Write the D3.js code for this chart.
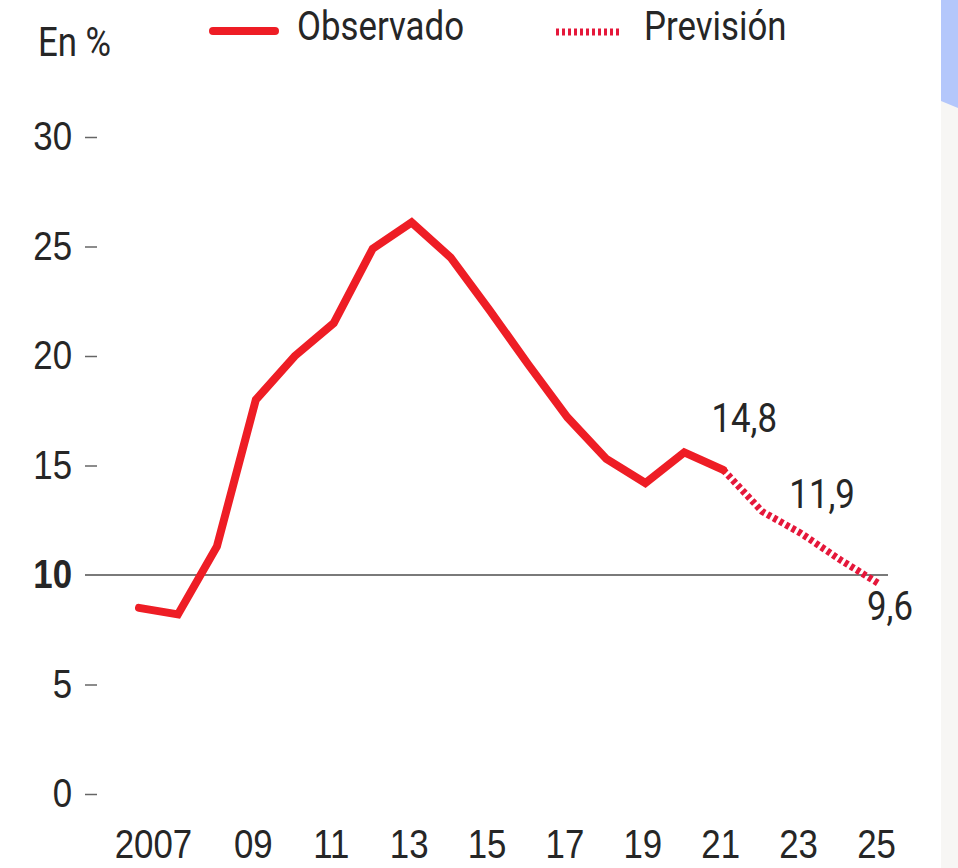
<!DOCTYPE html>
<html>
<head>
<meta charset="utf-8">
<script src="https://cdn.jsdelivr.net/npm/d3@7"></script>
<style>
  html, body { margin: 0; padding: 0; background: #fff; }
  svg { display: block; font-family: Roboto, "Noto Sans", sans-serif; }
</style>
</head>
<body>
<div id="chart"></div>
<script>
// Observed series (% unemployment)
const obsYears = [2006, 2007, 2008, 2009, 2010, 2011, 2012, 2013, 2014, 2015, 2016, 2017, 2018, 2019, 2020, 2021];
const obsValues = [8.5, 8.2, 11.3, 18.0, 20.0, 21.5, 24.9, 26.1, 24.5, 22.1, 19.6, 17.2, 15.3, 14.2, 15.6, 14.8];

// Forecast series (starts at last observed point)
const fcYears = [2021, 2022, 2023, 2024, 2025];
const fcValues = [14.8, 12.9, 11.9, 10.7, 9.6];

// Labelled points
const noteYears = [2021, 2023, 2025];
const noteTexts = ["14,8", "11,9", "9,6"];

const yTicks = [0, 5, 10, 15, 20, 25, 30];
const xTicks = [2007, 2009, 2011, 2013, 2015, 2017, 2019, 2021, 2023, 2025];
const xTickLabels = ["2007", "09", "11", "13", "15", "17", "19", "21", "23", "25"];

const RED = "#ee1d25";
const TXT = "#262626";
const SX = 0.87; // narrow the glyphs (condensed look)

const width = 958, height = 868;

const svg = d3.select("#chart").append("svg")
    .attr("width", width)
    .attr("height", height);

// right page strip
svg.append("rect").attr("x", 941).attr("y", 0).attr("width", 17).attr("height", height).attr("fill", "#f7f6f4");
svg.append("path").attr("d", "M941,0H958V108L941,101Z").attr("fill", "#b4c7fb");

const x = d3.scaleLinear().domain([2006, 2025]).range([139, 879]);
const y = d3.scaleLinear().domain([0, 30]).range([794, 137]);

// put a text at (px,py) with condensed glyphs
function placeText(sel, px, py) {
    return sel.attr("x", 0).attr("y", 0)
        .attr("transform", `translate(${px},${py}) scale(${SX},1)`);
}

// y axis
const yAxis = svg.append("g")
    .attr("transform", "translate(97,0)")
    .call(d3.axisLeft(y).tickValues(yTicks).tickSize(12).tickPadding(13));
yAxis.select(".domain").remove();
yAxis.selectAll(".tick line").attr("stroke", "#666").attr("stroke-width", 1.5);
yAxis.selectAll(".tick text")
    .attr("fill", TXT)
    .style("font-size", "40px")
    .attr("x", -25 / SX)
    .attr("transform", `scale(${SX},1)`);
yAxis.selectAll(".tick").filter(d => d === 10).select("line").remove();
yAxis.selectAll(".tick").filter(d => d === 10).select("text").style("font-weight", "bold");

// reference line at 10
svg.append("line")
    .attr("x1", 85).attr("x2", 888)
    .attr("y1", y(10)).attr("y2", y(10))
    .attr("stroke", "#7a7a7a").attr("stroke-width", 2);

// x axis
const xAxis = svg.append("g")
    .attr("transform", "translate(0,830)")
    .call(d3.axisBottom(x).tickValues(xTicks).tickSize(0).tickPadding(0)
        .tickFormat((d, i) => xTickLabels[i]));
xAxis.select(".domain").remove();
xAxis.selectAll(".tick text")
    .attr("fill", TXT)
    .style("font-size", "40px")
    .attr("x", d => (d === 2007 ? -25 : -3) / SX)
    .attr("transform", `scale(${SX},1)`);

// lines
const line = d3.line().x(d => x(d[0])).y(d => y(d[1])).curve(d3.curveLinear);

svg.append("path")
    .datum(fcYears.map((yr, i) => [yr, fcValues[i]]))
    .attr("d", line)
    .attr("fill", "none")
    .attr("stroke", "#e5173a")
    .attr("stroke-width", 7)
    .attr("stroke-dasharray", "4,3");

svg.append("path")
    .datum(obsYears.map((yr, i) => [yr, obsValues[i]]))
    .attr("d", line)
    .attr("fill", "none")
    .attr("stroke", RED)
    .attr("stroke-width", 8)
    .attr("stroke-linejoin", "miter")
    .attr("stroke-linecap", "round");

// value labels
const noteDx = [21, 21, 11];
const noteDy = [-38, -25, 36];
noteYears.forEach((yr, i) => {
    const v = fcValues[fcYears.indexOf(yr)];
    svg.append("text")
        .attr("fill", TXT)
        .style("font-size", "40px")
        .attr("text-anchor", "middle")
        .call(placeText, x(yr) + noteDx[i], y(v) + noteDy[i])
        .text(noteTexts[i]);
});

// header + legend
svg.append("text").attr("fill", TXT).style("font-size", "40px")
    .call(placeText, 38, 56).text("En %");

svg.append("line")
    .attr("x1", 213).attr("x2", 275).attr("y1", 31).attr("y2", 31)
    .attr("stroke", RED).attr("stroke-width", 8).attr("stroke-linecap", "round");
svg.append("text").attr("fill", TXT).style("font-size", "40px")
    .call(placeText, 297, 40).text("Observado");

svg.append("line")
    .attr("x1", 556).attr("x2", 622).attr("y1", 32).attr("y2", 32)
    .attr("stroke", "#e5173a").attr("stroke-width", 7).attr("stroke-dasharray", "3,3");
svg.append("text").attr("fill", TXT).style("font-size", "40px")
    .call(placeText, 644, 40).text("Previsión");
</script>
</body>
</html>
